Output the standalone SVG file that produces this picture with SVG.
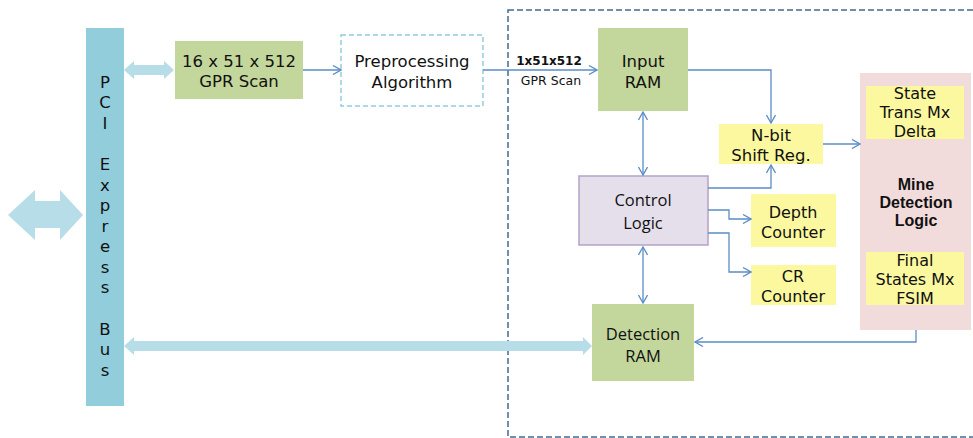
<svg xmlns="http://www.w3.org/2000/svg" width="973" height="438" viewBox="0 0 973 438">
<style>
.v{font-family:"DejaVu Sans",Verdana,sans-serif;font-size:16.5px;fill:#111;text-anchor:middle}
.c{font-family:"Open Sans","Liberation Sans",sans-serif;font-size:16.5px;fill:#111;text-anchor:middle}
.b{font-family:"Liberation Sans",Arial,sans-serif;font-size:16px;font-weight:bold;fill:#111;text-anchor:middle}
.green{fill:#c3d69b}
.yellow{fill:#fbf8a0}
.conn{fill:none;stroke:#5b8cc6;stroke-width:1.3}
.fat{fill:#b7dde8}
</style>
<defs>
<marker id="ah" viewBox="0 0 10 10" refX="9" refY="5" markerWidth="10" markerHeight="10" markerUnits="userSpaceOnUse" orient="auto-start-reverse">
<path d="M1,0.5 L9,5 L1,9.5" fill="none" stroke="#5b8cc6" stroke-width="1.3"/>
</marker>
</defs>
<rect width="973" height="438" fill="#fff"/>
<rect id="fpga-boundary" x="508" y="10" width="470" height="427" fill="none" stroke="#456a90" stroke-width="1.5" stroke-dasharray="6,3"/>

<g id="pci-bus">
<rect x="86" y="28" width="38" height="378" fill="#92cddc"/>
<g class="v" style="font-size:16.5px">
<text x="105" y="88">P</text>
<text x="105" y="108">C</text>
<text x="105" y="129">I</text>
<text x="105" y="170">E</text>
<text x="105" y="191">x</text>
<text x="105" y="211">p</text>
<text x="105" y="232">r</text>
<text x="105" y="252">e</text>
<text x="105" y="273">s</text>
<text x="105" y="293">s</text>
<text x="105" y="335">B</text>
<text x="105" y="355">u</text>
<text x="105" y="376">s</text>
</g>
</g>

<g id="gpr-scan">
<rect class="green" x="175" y="41" width="128" height="58"/>
<text class="v" x="239" y="67">16 x 51 x 512</text>
<text class="v" x="239" y="87">GPR Scan</text>
</g>

<g id="preprocessing">
<rect x="341" y="35" width="142" height="71" fill="#fff" stroke="#93cddd" stroke-width="1.5" stroke-dasharray="5,3"/>
<text class="v" x="412" y="67">Preprocessing</text>
<text class="v" x="412" y="88">Algorithm</text>
</g>

<g id="input-ram">
<rect class="green" x="598" y="28" width="90" height="83"/>
<text class="v" x="643" y="67">Input</text>
<text class="v" x="643" y="88">RAM</text>
</g>

<g id="control-logic">
<rect x="579" y="176" width="129" height="69" fill="#e5dfec" stroke="#b3a2c7" stroke-width="1.5"/>
<text class="c" x="643" y="206">Control</text>
<text class="c" x="643" y="229">Logic</text>
</g>

<g id="detection-ram">
<rect class="green" x="592" y="304" width="102" height="77"/>
<text class="c" x="643" y="340">Detection</text>
<text class="c" x="643" y="362">RAM</text>
</g>

<g id="shift-reg">
<rect class="yellow" x="719" y="124" width="104" height="40"/>
<text class="v" x="771" y="141">N-bit</text>
<text class="v" x="771" y="161">Shift Reg.</text>
</g>

<g id="depth-counter">
<rect class="yellow" x="751" y="194" width="85" height="53"/>
<text class="v" x="793" y="218" style="font-size:16px">Depth</text>
<text class="v" x="793" y="238" style="font-size:16px">Counter</text>
</g>

<g id="cr-counter">
<rect class="yellow" x="751" y="265" width="85" height="40"/>
<text class="v" x="793" y="282" style="font-size:16px">CR</text>
<text class="v" x="793" y="302" style="font-size:16px">Counter</text>
</g>

<g id="mine-detection-logic">
<rect x="860" y="73" width="111" height="257" fill="#f2dcdb"/>
<text class="b" x="916" y="190">Mine</text>
<text class="b" x="916" y="208">Detection</text>
<text class="b" x="916" y="226">Logic</text>
</g>

<g id="state-trans">
<rect class="yellow" x="866" y="86" width="98" height="53"/>
<text class="v" x="915" y="99" style="font-size:16px">State</text>
<text class="v" x="915" y="118" style="font-size:16px">Trans Mx</text>
<text class="v" x="915" y="137" style="font-size:16px">Delta</text>
</g>

<g id="final-states">
<rect class="yellow" x="866" y="252" width="98" height="53"/>
<text class="v" x="915" y="266" style="font-size:16px">Final</text>
<text class="v" x="915" y="285" style="font-size:16px">States Mx</text>
<text class="v" x="915" y="304" style="font-size:16px">FSIM</text>
</g>

<g id="connectors">
<path class="fat" d="M8,215 L35,190 L35,201 L60,201 L60,190 L83,215 L60,240 L60,228 L35,228 L35,240 Z"/>
<path class="fat" d="M124,70 L134,61 L134,65 L164,65 L164,61 L174,70 L164,79 L164,75 L134,75 L134,79 Z"/>
<path class="fat" d="M124,346 L134,337 L134,341 L583,341 L583,337 L592,346 L583,355 L583,351 L134,351 L134,355 Z"/>
<path class="conn" d="M303,70 L341,70" marker-end="url(#ah)"/>
<path class="conn" d="M483,70 L597,70" marker-end="url(#ah)"/>
<path class="conn" d="M688,70 L771,70 L771,123" marker-end="url(#ah)"/>
<path class="conn" d="M708,188 L771,188 L771,165" marker-end="url(#ah)"/>
<path class="conn" d="M823,144 L860,144" marker-end="url(#ah)"/>
<path class="conn" d="M643,112 L643,175" marker-start="url(#ah)" marker-end="url(#ah)"/>
<path class="conn" d="M643,247 L643,303" marker-start="url(#ah)" marker-end="url(#ah)"/>
<path class="conn" d="M708,210 L729,210 L729,219 L751,219" marker-end="url(#ah)"/>
<path class="conn" d="M708,233 L729,233 L729,272 L751,272" marker-end="url(#ah)"/>
<path class="conn" d="M916,330 L916,342 L695,342" marker-end="url(#ah)"/>
<text x="549" y="65" style="font-family:'DejaVu Sans',Verdana,sans-serif;font-size:12px;font-weight:bold;fill:#111;text-anchor:middle">1x51x512</text>
<text x="551" y="85" style="font-family:'DejaVu Sans',Verdana,sans-serif;font-size:12.5px;fill:#111;text-anchor:middle">GPR Scan</text>
</g>
</svg>
